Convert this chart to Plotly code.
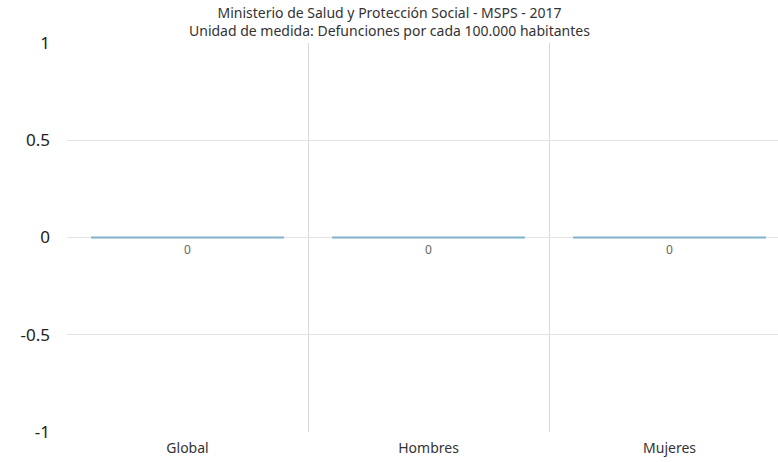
import plotly.graph_objects as go

categories = ["Global", "Hombres", "Mujeres"]
values = [0, 0, 0]
labels = ["0", "0", "0"]
yticks = [1, 0.5, 0, -0.5, -1]
title_lines = ["Ministerio de Salud y Protección Social - MSPS - 2017",
               "Unidad de medida: Defunciones por cada 100.000 habitantes"]

FONT = "Noto Sans"
half = 0.4

fig = go.Figure()
for i, (c, v, t) in enumerate(zip(categories, values, labels)):
    fig.add_trace(go.Scatter(
        x=[i - half, i + half], y=[v, v], mode="lines",
        line=dict(color="#7fb1cd", width=2), hoverinfo="skip", showlegend=False,
        cliponaxis=False,
    ))
    fig.add_trace(go.Scatter(
        x=[i], y=[v], mode="markers+text", text=[t], textposition="bottom center",
        marker=dict(size=10, opacity=0),
        textfont=dict(family=FONT, size=12, color="#666666"), showlegend=False,
        hoverinfo="skip",
    ))

fig.add_annotation(text="<br>".join(title_lines), xref="paper", yref="paper",
                   x=0.453, y=1.054, xanchor="center", yanchor="middle",
                   showarrow=False, align="center",
                   font=dict(family=FONT, size=14, color="#333333"))

fig.update_layout(
    width=778, height=462,
    margin=dict(l=67, r=0, t=43, b=30, autoexpand=False),
    paper_bgcolor="white", plot_bgcolor="white",
    font=dict(family=FONT),
    xaxis=dict(
        range=[-0.5, 2.45], tickmode="array", tickvals=list(range(len(categories))),
        ticktext=categories, showgrid=False, zeroline=False, showline=False,
        ticks="", automargin=False, ticklabelstandoff=6,
        tickfont=dict(family=FONT, size=14, color="#333333"),
        minor=dict(tickmode="array", tickvals=[-0.5, 0.5, 1.5, 2.5], showgrid=True,
                   gridcolor="#d9d9d9", gridwidth=1, ticks=""),
    ),
    yaxis=dict(
        range=[-1, 1], tickmode="array", tickvals=yticks,
        ticktext=[str(v) for v in yticks],
        showgrid=True, gridcolor="#e3e3e3", gridwidth=1, zeroline=False,
        showline=False, ticks="", ticklabelstandoff=16, automargin=False,
        tickfont=dict(family=FONT, size=17, color="#222222"),
    ),
)

fig.write_html("out.html", config={"displayModeBar": False},
               post_script="document.body.style.margin='0px';")
